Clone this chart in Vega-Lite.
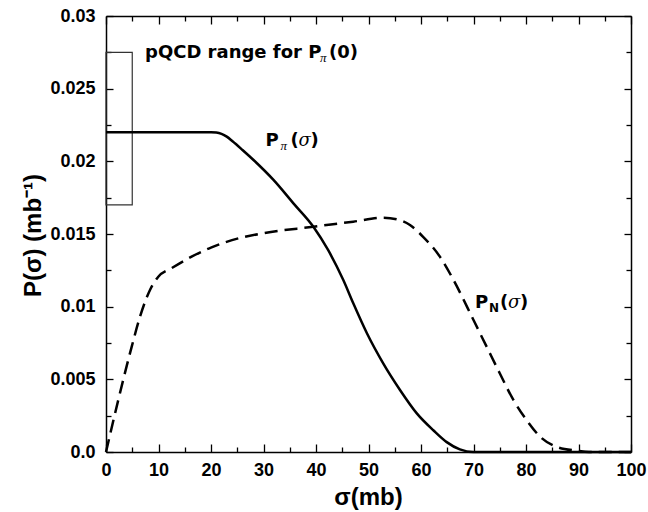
{
  "$schema": "https://vega.github.io/schema/vega-lite/v6.json",
  "width": 525,
  "height": 436,
  "autosize": {"type": "none"},
  "padding": {"left": 106, "top": 16, "right": 17, "bottom": 60},
  "background": "white",
  "config": {
    "view": {"stroke": null},
    "axis": {
      "grid": false,
      "domainColor": "black",
      "domainWidth": 1.5,
      "tickColor": "black",
      "tickWidth": 1.3,
      "labelFont": "Liberation Sans",
      "labelFontWeight": "bold",
      "labelFontSize": 18,
      "labelColor": "black",
      "titleFont": "Liberation Sans",
      "titleFontWeight": "bold",
      "titleFontSize": 24,
      "titleColor": "black",
      "labelFlush": false,
      "labelOverlap": false
    }
  },
  "datasets": {
    "pi": [
      {"s": 0, "p": 0.022}, {"s": 10, "p": 0.022}, {"s": 20, "p": 0.022},
      {"s": 21, "p": 0.02198}, {"s": 22, "p": 0.02189}, {"s": 23, "p": 0.0217},
      {"s": 24.1, "p": 0.02138}, {"s": 26, "p": 0.02078}, {"s": 28.1, "p": 0.02009},
      {"s": 31.9, "p": 0.01872}, {"s": 35.7, "p": 0.01711}, {"s": 39.5, "p": 0.0155},
      {"s": 42.3, "p": 0.0139}, {"s": 45.2, "p": 0.01183}, {"s": 47.1, "p": 0.01023},
      {"s": 49.7, "p": 0.00817}, {"s": 52.8, "p": 0.0061}, {"s": 56.0, "p": 0.00427},
      {"s": 59.2, "p": 0.00266}, {"s": 62.4, "p": 0.00148}, {"s": 64.9, "p": 0.00068},
      {"s": 67.4, "p": 0.00018}, {"s": 70, "p": 0}, {"s": 100, "p": 0}
    ],
    "pn": [
      {"s": 0, "p": 0}, {"s": 2.34, "p": 0.00358}, {"s": 4.9, "p": 0.00725},
      {"s": 6.48, "p": 0.00931}, {"s": 8.38, "p": 0.01115}, {"s": 9.96, "p": 0.01206},
      {"s": 12.5, "p": 0.01265}, {"s": 16.3, "p": 0.01344}, {"s": 20.1, "p": 0.01408},
      {"s": 25.2, "p": 0.0147}, {"s": 29.9, "p": 0.01505}, {"s": 39.5, "p": 0.0155},
      {"s": 47.1, "p": 0.01585}, {"s": 52.8, "p": 0.01612}, {"s": 55.4, "p": 0.01601},
      {"s": 57.9, "p": 0.01562}, {"s": 60.4, "p": 0.01481}, {"s": 63.6, "p": 0.01344},
      {"s": 66.2, "p": 0.01183}, {"s": 70.0, "p": 0.00908}, {"s": 72.5, "p": 0.00725},
      {"s": 75.0, "p": 0.00542}, {"s": 77.6, "p": 0.00358}, {"s": 80.1, "p": 0.0022},
      {"s": 82.7, "p": 0.00105}, {"s": 85.8, "p": 0.00036}, {"s": 89.7, "p": 0.00009},
      {"s": 92, "p": 0}, {"s": 100, "p": 0}
    ],
    "box": [{"x0": 0, "x1": 5, "y0": 0.017, "y1": 0.0275}],
    "lab": [
      {"id": "pi", "x": 30.4, "y": 0.02142},
      {"id": "N", "x": 70.3, "y": 0.01023},
      {"id": "q", "x": 7.43, "y": 0.02745}
    ]
  },
  "resolve": {"axis": {"x": "independent", "y": "independent"}},
  "layer": [
    {
      "data": {"name": "box"},
      "mark": {"type": "rect", "fill": null, "fillOpacity": 0, "stroke": "#333333", "strokeWidth": 1.2},
      "encoding": {
        "x": {"field": "x0", "type": "quantitative", "scale": {"domain": [0, 100], "nice": false, "zero": false},
          "axis": {"orient": "bottom", "values": [0,10,20,30,40,50,60,70,80,90,100], "format": "d", "tickSize": -8, "labelPadding": 17,
            "title": "σ(mb)", "titleX": 262, "titleY": 45, "titleBaseline": "middle", "titleAlign": "center"}},
        "x2": {"field": "x1"},
        "y": {"field": "y0", "type": "quantitative", "scale": {"domain": [0, 0.03], "nice": false, "zero": false},
          "axis": {"orient": "left", "values": [0,0.005,0.01,0.015,0.02,0.025,0.03], "tickSize": -7, "labelPadding": 18,
            "labelExpr": "datum.value == 0 ? '0.0' : format(datum.value, '~g')", "labelBaseline": "middle",
            "title": "P(σ) (mb⁻¹)", "titleX": -73, "titleY": 219, "titleAngle": -90, "titleBaseline": "middle", "titleAlign": "center"}},
        "y2": {"field": "y1"}
      }
    },
    {
      "data": {"name": "pi"},
      "mark": {"type": "line", "color": "black", "strokeWidth": 2.5, "interpolate": "monotone"},
      "encoding": {
        "x": {"field": "s", "type": "quantitative", "scale": {"domain": [0, 100], "nice": false, "zero": false},
          "axis": {"orient": "bottom", "values": [5,15,25,35,45,55,65,75,85,95], "tickSize": -5, "labels": false, "domain": false, "title": null}},
        "y": {"field": "p", "type": "quantitative", "scale": {"domain": [0, 0.03], "nice": false, "zero": false},
          "axis": {"orient": "left", "values": [0.0025,0.0075,0.0125,0.0175,0.0225,0.0275], "tickSize": -5, "labels": false, "domain": false, "title": null}}
      }
    },
    {
      "data": {"name": "pn"},
      "mark": {"type": "line", "color": "black", "strokeWidth": 2.5, "interpolate": "monotone", "strokeDash": [13, 7]},
      "encoding": {
        "x": {"field": "s", "type": "quantitative", "scale": {"domain": [0, 100], "nice": false, "zero": false},
          "axis": {"orient": "top", "values": [0,10,20,30,40,50,60,70,80,90,100], "tickSize": -8, "labels": false, "title": null}},
        "y": {"field": "p", "type": "quantitative", "scale": {"domain": [0, 0.03], "nice": false, "zero": false},
          "axis": {"orient": "right", "values": [0,0.005,0.01,0.015,0.02,0.025,0.03], "tickSize": -7, "labels": false, "title": null}}
      }
    },
    {
      "data": {"name": "lab"},
      "transform": [{"filter": "datum.id == 'pi' || datum.id == 'N'"}],
      "mark": {"type": "text", "text": "P", "font": "DejaVu Sans", "fontWeight": "bold", "fontSize": 18, "align": "left", "baseline": "middle", "color": "black"},
      "encoding": {
        "x": {"field": "x", "type": "quantitative", "scale": {"domain": [0, 100], "nice": false, "zero": false},
          "axis": {"orient": "top", "values": [5,15,25,35,45,55,65,75,85,95], "tickSize": -5, "labels": false, "domain": false, "title": null}},
        "y": {"field": "y", "type": "quantitative", "scale": {"domain": [0, 0.03], "nice": false, "zero": false},
          "axis": {"orient": "right", "values": [0.0025,0.0075,0.0125,0.0175,0.0225,0.0275], "tickSize": -5, "labels": false, "domain": false, "title": null}}
      }
    },
    {
      "data": {"name": "lab"},
      "transform": [{"filter": "datum.id == 'pi'"}],
      "mark": {"type": "text", "text": "π", "font": "Liberation Serif", "fontStyle": "italic", "fontSize": 13, "align": "left", "baseline": "middle", "dx": 15, "dy": 5, "color": "black"},
      "encoding": {
        "x": {"field": "x", "type": "quantitative", "axis": null},
        "y": {"field": "y", "type": "quantitative", "axis": null}
      }
    },
    {
      "data": {"name": "lab"},
      "transform": [{"filter": "datum.id == 'N'"}],
      "mark": {"type": "text", "text": "N", "font": "DejaVu Sans", "fontWeight": "bold", "fontSize": 12, "align": "left", "baseline": "middle", "dx": 14, "dy": 5, "color": "black"},
      "encoding": {
        "x": {"field": "x", "type": "quantitative", "axis": null},
        "y": {"field": "y", "type": "quantitative", "axis": null}
      }
    },
    {
      "data": {"name": "lab"},
      "transform": [{"filter": "datum.id == 'pi' || datum.id == 'N'"}],
      "mark": {"type": "text", "text": "(", "font": "DejaVu Sans", "fontWeight": "bold", "fontSize": 18, "align": "left", "baseline": "middle", "dx": 25, "color": "black"},
      "encoding": {
        "x": {"field": "x", "type": "quantitative", "axis": null},
        "y": {"field": "y", "type": "quantitative", "axis": null}
      }
    },
    {
      "data": {"name": "lab"},
      "transform": [{"filter": "datum.id == 'pi' || datum.id == 'N'"}],
      "mark": {"type": "text", "text": "σ", "font": "DejaVu Serif", "fontStyle": "italic", "fontSize": 18, "align": "left", "baseline": "middle", "dx": 33, "color": "black"},
      "encoding": {
        "x": {"field": "x", "type": "quantitative", "axis": null},
        "y": {"field": "y", "type": "quantitative", "axis": null}
      }
    },
    {
      "data": {"name": "lab"},
      "transform": [{"filter": "datum.id == 'pi' || datum.id == 'N'"}],
      "mark": {"type": "text", "text": ")", "font": "DejaVu Sans", "fontWeight": "bold", "fontSize": 18, "align": "left", "baseline": "middle", "dx": 45, "color": "black"},
      "encoding": {
        "x": {"field": "x", "type": "quantitative", "axis": null},
        "y": {"field": "y", "type": "quantitative", "axis": null}
      }
    },
    {
      "data": {"name": "lab"},
      "transform": [{"filter": "datum.id == 'q'"}],
      "mark": {"type": "text", "text": "pQCD range for P", "font": "DejaVu Sans", "fontWeight": "bold", "fontSize": 18, "align": "left", "baseline": "middle", "color": "black"},
      "encoding": {
        "x": {"field": "x", "type": "quantitative", "axis": null},
        "y": {"field": "y", "type": "quantitative", "axis": null}
      }
    },
    {
      "data": {"name": "lab"},
      "transform": [{"filter": "datum.id == 'q'"}],
      "mark": {"type": "text", "text": "π", "font": "Liberation Serif", "fontStyle": "italic", "fontSize": 13, "align": "left", "baseline": "middle", "dx": 175, "dy": 5, "color": "black"},
      "encoding": {
        "x": {"field": "x", "type": "quantitative", "axis": null},
        "y": {"field": "y", "type": "quantitative", "axis": null}
      }
    },
    {
      "data": {"name": "lab"},
      "transform": [{"filter": "datum.id == 'q'"}],
      "mark": {"type": "text", "text": "(0)", "font": "DejaVu Sans", "fontWeight": "bold", "fontSize": 18, "align": "left", "baseline": "middle", "dx": 184, "color": "black"},
      "encoding": {
        "x": {"field": "x", "type": "quantitative", "axis": null},
        "y": {"field": "y", "type": "quantitative", "axis": null}
      }
    }
  ]
}
